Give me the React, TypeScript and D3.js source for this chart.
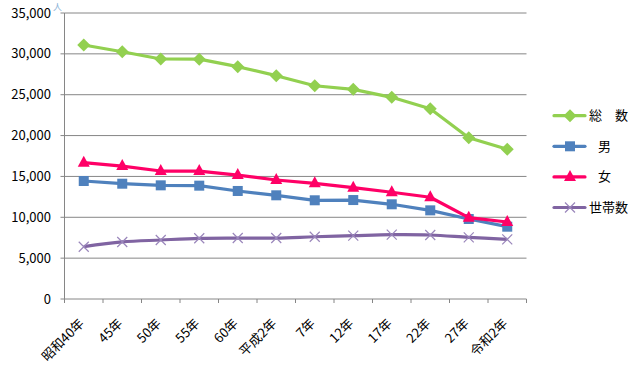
import React from "react";
import * as d3 from "d3";

const categories = ["昭和40年", "45年", "50年", "55年", "60年", "平成2年", "7年", "12年", "17年", "22年", "27年", "令和2年"];
const totalValues = [31080, 30260, 29370, 29350, 28430, 27330, 26100, 25660, 24680, 23290, 19740, 18320];
const maleValues = [14440, 14110, 13910, 13870, 13220, 12690, 12080, 12110, 11590, 10850, 9790, 8850];
const femaleValues = [16680, 16270, 15660, 15650, 15170, 14560, 14150, 13620, 13060, 12450, 9950, 9420];
const householdValues = [6400, 6980, 7220, 7430, 7460, 7460, 7620, 7750, 7870, 7830, 7550, 7300];
const yTicks = [0, 5000, 10000, 15000, 20000, 25000, 30000, 35000];
const legendNames = ["総　数", "男", "女", "世帯数"];

const series = [
  { name: legendNames[0], values: totalValues, color: "#92d050", marker: "diamond", lx: 589 },
  { name: legendNames[1], values: maleValues, color: "#4f81bd", marker: "square", lx: 598 },
  { name: legendNames[2], values: femaleValues, color: "#ff0066", marker: "triangle", lx: 598 },
  { name: legendNames[3], values: householdValues, color: "#8064a2", marker: "x", lx: 589 },
];

const W = 642, H = 373;
const left = 64.5, right = 526.5, top = 13, bottom = 299;
const font = "'Noto Sans CJK JP', 'Noto Sans', sans-serif";

function Marker({ type, x, y, color }: { type: string; x: number; y: number; color: string }) {
  if (type === "diamond") {
    const r = 6.5;
    return <path d={`M${x},${y - r}L${x + r},${y}L${x},${y + r}L${x - r},${y}Z`} fill={color} />;
  }
  if (type === "square") {
    return <rect x={x - 5} y={y - 5} width={10} height={10} fill={color} />;
  }
  if (type === "triangle") {
    return <path d={`M${x},${y - 7}L${x + 6},${y + 4}L${x - 6},${y + 4}Z`} fill={color} />;
  }
  return (
    <path d={`M${x - 5},${y - 5}L${x + 5},${y + 5}M${x - 5},${y + 5}L${x + 5},${y - 5}`} stroke="#9a86bb" strokeWidth={1.2} fill="none" />
  );
}

export default function App() {
  const x = d3.scaleBand<string>().domain(categories).range([left, right]);
  const y = d3.scaleLinear().domain([0, 35000]).range([bottom, top]);
  const cx = (c: string) => (x(c) as number) + x.bandwidth() / 2;
  const fmt = d3.format(",");

  return (
    <svg width={W} height={H} style={{ position: "absolute", left: 0, top: 0, background: "#fff" }} fontFamily={font}>
      {yTicks.map((t) => (
        <g key={t}>
          {t > 0 && <line x1={left} x2={right} y1={y(t)} y2={y(t)} stroke="#868686" strokeWidth={1} />}
          <line x1={left - 4} x2={left} y1={y(t)} y2={y(t)} stroke="#868686" />
          <text x={51} y={y(t)} dy="0.35em" textAnchor="end" fontSize={13} fill="#000">{fmt(t)}</text>
        </g>
      ))}
      <text x={53} y={10} fontSize={9} fill="#8eb4d8">人</text>
      <line x1={left} x2={left} y1={top} y2={bottom} stroke="#868686" />
      <line x1={left} x2={right} y1={bottom} y2={bottom} stroke="#868686" />
      {categories.map((c) => (
        <line key={c} x1={(x(c) as number)} x2={(x(c) as number)} y1={bottom} y2={bottom + 4} stroke="#868686" />
      ))}
      <line x1={right} x2={right} y1={bottom} y2={bottom + 4} stroke="#868686" />
      {categories.map((c) => (
        <text key={c} transform={`translate(${cx(c) - 2},${bottom + 22}) rotate(-45)`} textAnchor="end" dy="0.35em" fontSize={13} fill="#000">{c}</text>
      ))}
      {series.map((s) => {
        const line = d3.line<number>()
          .x((_, i) => cx(categories[i]))
          .y((v) => y(v))
          .curve(s.marker === "x" ? d3.curveCatmullRom : d3.curveLinear);
        return (
          <g key={s.name}>
            <path d={line(s.values) as string} fill="none" stroke={s.color} strokeWidth={3.2} strokeLinejoin="round" />
            {s.values.map((v, i) => (
              <Marker key={i} type={s.marker} x={cx(categories[i])} y={y(v)} color={s.color} />
            ))}
          </g>
        );
      })}
      {series.map((s, i) => {
        const ly = 115.7 + i * 30.6;
        return (
          <g key={s.name}>
            <line x1={554} x2={585} y1={ly} y2={ly} stroke={s.color} strokeWidth={3.2} strokeLinecap="round" />
            <Marker type={s.marker} x={570} y={ly} color={s.color} />
            <text x={s.lx} y={ly} dy="0.35em" fontSize={13} fill="#000">{s.name}</text>
          </g>
        );
      })}
    </svg>
  );
}
